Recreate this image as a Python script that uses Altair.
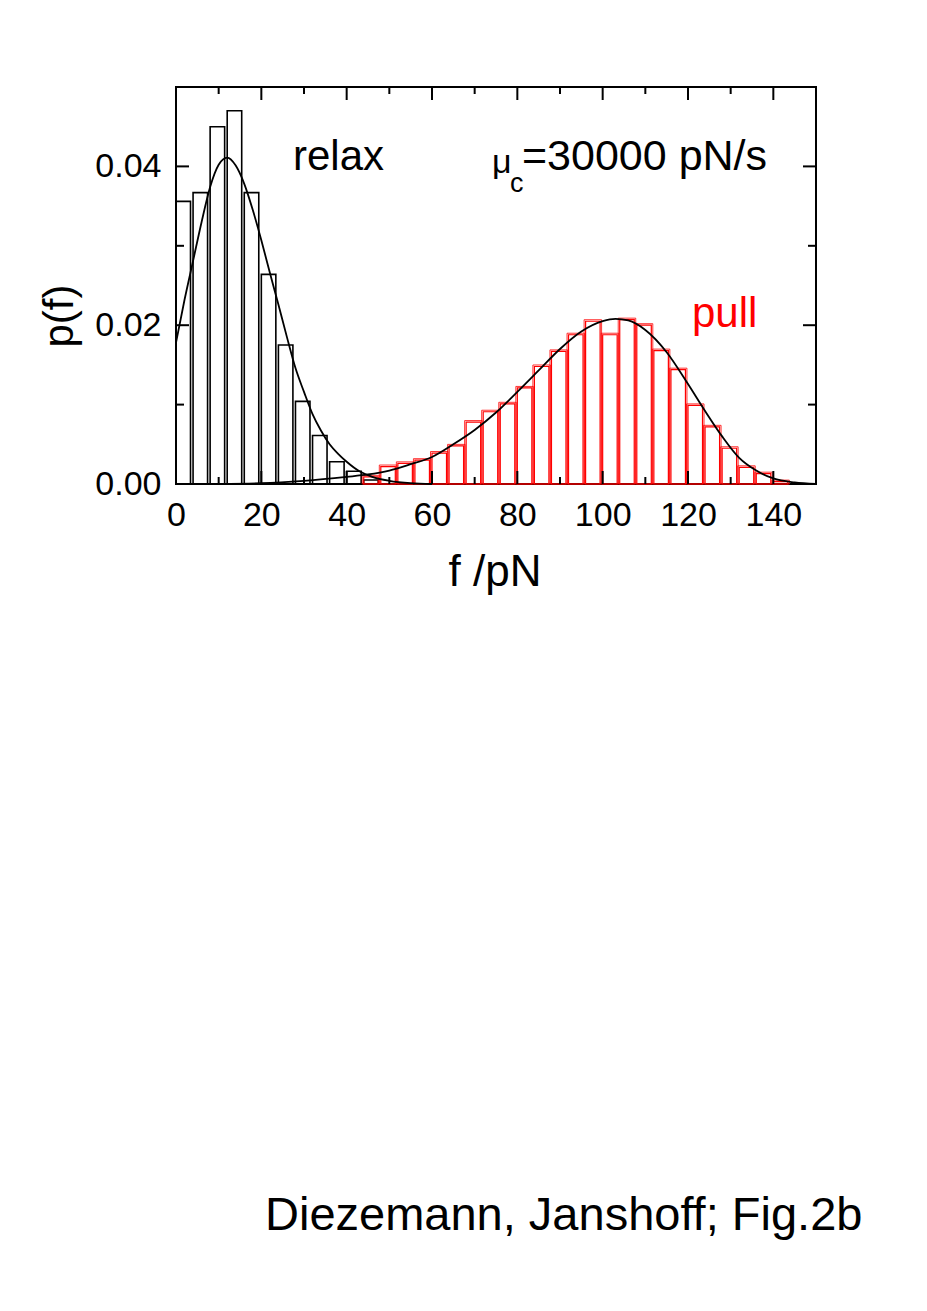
import altair as alt
import pandas as pd

# ---- data ----
bin_width = 4.0
bar_frac = 0.85

relax_left = [0, 4, 8, 12, 16, 20, 24, 28, 32, 36, 40, 44]
relax_p = [0.0356, 0.0367, 0.0450, 0.0470, 0.0367, 0.0264, 0.0175, 0.0104,
           0.0061, 0.0028, 0.0016, 0.0005]

pull_left = [44, 48, 52, 56, 60, 64, 68, 72, 76, 80, 84, 88, 92, 96, 100, 104,
             108, 112, 116, 120, 124, 128, 132, 136, 140]
pull_p = [0.0009, 0.0022, 0.0026, 0.0030, 0.0039, 0.0048, 0.0078, 0.0091,
          0.0101, 0.0121, 0.0148, 0.0167, 0.0188, 0.0205, 0.0188, 0.0207,
          0.0200, 0.0168, 0.0144, 0.0099, 0.0072, 0.0045, 0.0021, 0.0013, 0.0003]

relax_fit_f = [0, 2, 4, 6, 8, 10, 12, 14, 16, 18, 20, 22, 24, 26, 28, 30, 32,
               34, 36, 38, 40, 43, 46, 50, 55, 60]
relax_fit_p = [0.0178, 0.0232, 0.0281, 0.0330, 0.0374, 0.0402, 0.0411, 0.0401,
               0.0378, 0.0345, 0.0307, 0.0266, 0.0226, 0.0185, 0.0146, 0.0116,
               0.0088, 0.0067, 0.0050, 0.0038, 0.0028, 0.0016, 0.0009, 0.0004,
               0.0001, 0.0000]

pull_fit_f = [0, 10, 20, 30, 40, 45, 50, 55, 60, 65, 70, 75, 80, 85, 90, 95,
              100, 103, 106, 110, 115, 120, 124, 128, 132, 136, 140, 145, 150]
pull_fit_p = [0.0000, 0.00002, 0.0001, 0.0004, 0.0009, 0.0012, 0.0017, 0.0025,
              0.0034, 0.0050, 0.0068, 0.0090, 0.0116, 0.0143, 0.0170, 0.0192,
              0.0205, 0.0208, 0.0206, 0.0194, 0.0166, 0.0126, 0.0092, 0.0060,
              0.0033, 0.0017, 0.0007, 0.0002, 0.0000]

x_major = [0, 20, 40, 60, 80, 100, 120, 140]
x_minor = [10, 30, 50, 70, 90, 110, 130, 150]
y_major = [0.0, 0.02, 0.04]
y_minor = [0.01, 0.03, 0.05]

# ---- chart ----
W, H = 640, 397
FONT = "Liberation Sans"

xs = alt.Scale(domain=[0, 150], nice=False, zero=False)
ys = alt.Scale(domain=[0, 0.05], nice=False)

relax_df = pd.DataFrame({"f0": relax_left, "p": relax_p})
relax_df["f1"] = relax_df["f0"] + bin_width * bar_frac
pull_df = pd.DataFrame({"f0": pull_left, "p": pull_p})
pull_df["f1"] = pull_df["f0"] + bin_width * bar_frac

xaxis = alt.Axis(values=x_major, ticks=False, domain=False, grid=False,
                 labelFontSize=34, labelFont=FONT, labelColor="black",
                 labelPadding=14, labelFlush=False, labelOverlap=False,
                 title=None)
yaxis = alt.Axis(values=y_major, format=".2f", ticks=False, domain=False,
                 grid=False, labelFontSize=34, labelFont=FONT,
                 labelColor="black", labelPadding=15, labelFlush=False,
                 labelOverlap=False, title=None)

relax_bars = alt.Chart(relax_df).mark_rect(
    fill="white", fillOpacity=0, stroke="black", strokeWidth=1.6
).encode(
    x=alt.X("f0:Q", scale=xs, axis=xaxis),
    x2="f1:Q",
    y=alt.Y("p:Q", scale=ys, axis=yaxis),
    y2=alt.datum(0),
)

pull_bars = alt.Chart(pull_df).mark_rect(
    fillOpacity=0, stroke="red", strokeWidth=1.2
).encode(x=alt.X("f0:Q", scale=xs), x2="f1:Q",
         y=alt.Y("p:Q", scale=ys), y2=alt.datum(0))

pull_bars2 = alt.Chart(pull_df).mark_rect(
    fillOpacity=0, stroke="red", strokeWidth=1.0, strokeOpacity=0.8,
    xOffset=-1.5, x2Offset=1.5, yOffset=-1.5
).encode(x=alt.X("f0:Q", scale=xs), x2="f1:Q",
         y=alt.Y("p:Q", scale=ys), y2=alt.datum(0))

relax_fit = alt.Chart(pd.DataFrame({"f": relax_fit_f, "p": relax_fit_p})).mark_line(
    color="black", strokeWidth=1.8, interpolate="monotone"
).encode(x=alt.X("f:Q", scale=xs), y=alt.Y("p:Q", scale=ys))

pull_fit = alt.Chart(pd.DataFrame({"f": pull_fit_f, "p": pull_fit_p})).mark_line(
    color="black", strokeWidth=1.8, interpolate="monotone"
).encode(x=alt.X("f:Q", scale=xs), y=alt.Y("p:Q", scale=ys))


def xticks(df, length, top):
    base = alt.Chart(df).mark_rule(color="black", strokeWidth=2)
    if top:
        return base.encode(x=alt.X("v:Q", scale=xs), y=alt.value(0), y2=alt.value(length))
    return base.encode(x=alt.X("v:Q", scale=xs), y=alt.value(H), y2=alt.value(H - length))


def yticks(df, length, right):
    base = alt.Chart(df).mark_rule(color="black", strokeWidth=2)
    if right:
        return base.encode(y=alt.Y("v:Q", scale=ys), x=alt.value(W), x2=alt.value(W - length))
    return base.encode(y=alt.Y("v:Q", scale=ys), x=alt.value(0), x2=alt.value(length))


xmaj = pd.DataFrame({"v": x_major})
xmin = pd.DataFrame({"v": x_minor})
ymaj = pd.DataFrame({"v": y_major})
ymin = pd.DataFrame({"v": y_minor})
tick_layers = [
    xticks(xmaj, 13, False), xticks(xmin, 7, False),
    xticks(xmaj, 13, True), xticks(xmin, 7, True),
    yticks(ymaj, 13, False), yticks(ymin, 8, False),
    yticks(ymaj, 13, True), yticks(ymin, 8, True),
]


def label(text, x, y, size, color="black", align="left", baseline="alphabetic", angle=0):
    kw = dict(text=text, fontSize=size, font=FONT, color=color,
              align=align, baseline=baseline)
    if angle:
        kw["angle"] = angle
    return alt.Chart(pd.DataFrame({"a": [0]})).mark_text(**kw).encode(
        x=alt.value(x), y=alt.value(y))


texts = [
    label("relax", 117, 83, 42),
    label("μ", 316, 86, 34),
    label("c", 334, 105, 27),
    label("=30000 pN/s", 346, 83, 43),
    label("pull", 516, 240, 42, color="red"),
    label("f /pN", 319, 499, 44, align="center"),
    label("p(f)", -116, 229, 42, align="center", baseline="middle", angle=270),
    label("Diezemann, Janshoff; Fig.2b", 89, 1143, 47),
]

chart = alt.layer(
    relax_bars, pull_bars, pull_bars2, relax_fit, pull_fit, *tick_layers, *texts
).properties(
    width=W, height=H,
    autosize=alt.AutoSizeParams(type="none"),
    padding={"left": 168, "top": 79, "right": 100, "bottom": 815},
    background="white",
).configure_view(stroke="black", strokeWidth=2)

chart.save("out.html", embed_options={"renderer": "svg", "actions": False})
